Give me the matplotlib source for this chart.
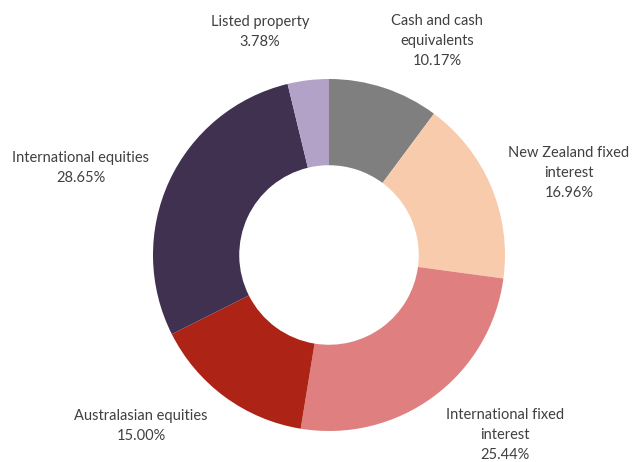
import matplotlib
matplotlib.use("Agg")
import matplotlib.pyplot as plt

# Asset allocation (percent), clockwise from 12 o'clock
categories = [
    "Cash and cash\nequivalents",
    "New Zealand fixed\ninterest",
    "International fixed\ninterest",
    "Australasian equities",
    "International equities",
    "Listed property",
]
values = [10.17, 16.96, 25.44, 15.00, 28.65, 3.78]
colors = ["#7F7F7F", "#F8CBAD", "#DF7F7F", "#AD2417", "#403151", "#B3A2C7"]

# label anchor (centre of text block) in pixel coords, y from top
label_pos = [(437, 41), (569, 173), (505, 435), (141, 426), (81, 168), (260, 32)]

W, H = 632, 462
fig = plt.figure(figsize=(W / 100, H / 100), dpi=100)
ax = fig.add_axes([0, 0, 1, 1])

ax.pie(
    values,
    colors=colors,
    startangle=90,
    counterclock=False,
    center=(329, H - 255),
    radius=176,
    wedgeprops=dict(width=176 * 0.49, linewidth=0),
    frame=True,
)
ax.set_xlim(0, W)
ax.set_ylim(0, H)
ax.set_aspect("equal")
ax.axis("off")

for name, val, (x, y) in zip(categories, values, label_pos):
    ax.text(
        x, H - y, f"{name}\n{val:.2f}%",
        ha="center", va="center", fontsize=10.5, color="#404040",
        family="Lato", linespacing=1.55,
    )

fig.savefig("out.png", dpi=100, facecolor="white")
